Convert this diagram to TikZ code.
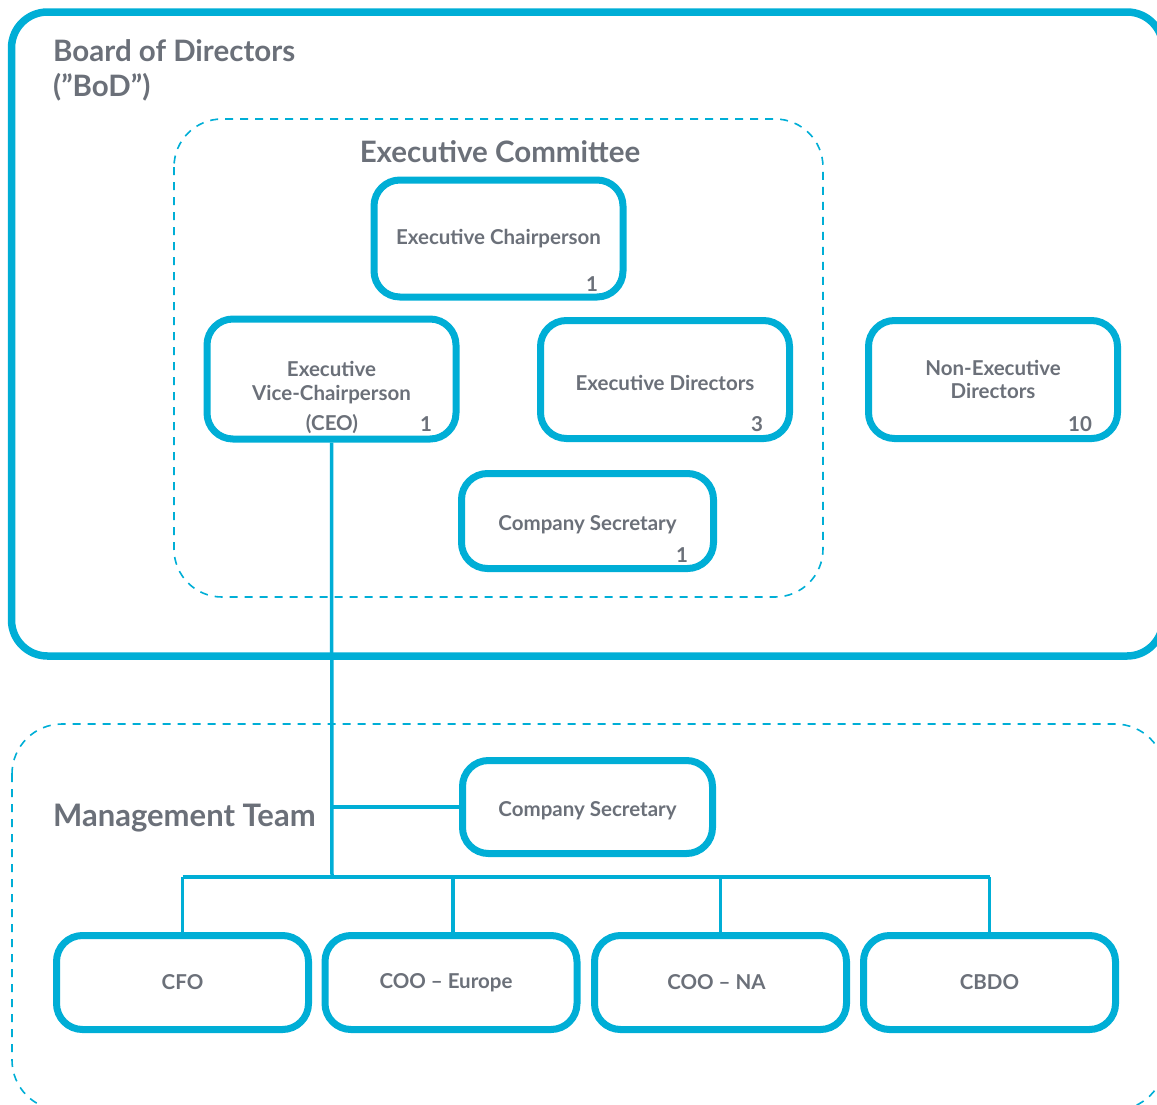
\documentclass[tikz,border=0pt]{standalone}
\usepackage{fontspec}
\setmainfont{Lato}
\definecolor{cy}{HTML}{00AED6}
\definecolor{tg}{HTML}{6B7079}
\tikzset{
  box/.style={draw=cy, line width=7pt, rounded corners=26pt, fill=white, text=tg,
    font=\fontsize{20.5}{24}\selectfont\bfseries, align=center, inner sep=0pt},
  num/.style={text=tg, font=\fontsize{20.5}{24}\selectfont\bfseries, inner sep=0pt},
  btext/.style={text=tg, font=\fontsize{20.5}{24}\selectfont\bfseries, align=center, inner sep=0pt},
  title/.style={text=tg, font=\fontsize{29.5}{35}\selectfont\bfseries, inner sep=0pt, align=left},
  conn/.style={draw=cy, line width=3.5pt},
  dashbox/.style={draw=cy, line width=1.6pt, dash pattern=on 8pt off 7pt},
}
\begin{document}
\begin{tikzpicture}[x=1pt,y=-1pt]
\useasboundingbox (0,0) rectangle (1157,1104);
% containers
\draw[draw=cy, line width=7.5pt, rounded corners=36pt] (11.5,12) rectangle (1163,656);
\draw[dashbox, rounded corners=48pt] (174,119) rectangle (823,597);
\draw[dashbox, rounded corners=50pt] (12,724) rectangle (1165,1110);
% titles
\node[title, anchor=north west] (bodt) at (53,39) {Board of Directors\\(”BoD”)};
\node[title] (ect) at (500,152) {Executive Committee};
\node[title, anchor=west, font=\fontsize{31}{35}\selectfont\bfseries] (mtt) at (53,818) {Management Team};
% boxes
\node[box, minimum width=249pt, minimum height=117pt] (ec) at (498.5,238.5) {Executive Chairperson};
\node[box, minimum width=249pt, minimum height=120pt] (evc) at (331.5,379) {};
\node[btext] (evct) at (331.5,383) {Executive\\Vice-Chairperson};
\node[num] (evcc) at (332,424) {(CEO)};
\node[box, minimum width=249pt, minimum height=118pt] (ed) at (665,379.5) {};
\node[btext] (edt) at (665,383) {Executive Directors};
\node[box, minimum width=249pt, minimum height=118pt, font=\fontsize{20.5}{23}\selectfont\bfseries] (ned) at (993,379.5) {Non-Executive\\Directors};
\node[box, minimum width=252pt, minimum height=95pt] (cs) at (587.5,521) {};
\node[btext] (cst) at (587.5,524.5) {Company Secretary};
\node[box, minimum width=250pt, minimum height=93pt] (csm) at (587.5,807) {};
\node[btext] (csmt) at (587.5,810.5) {Company Secretary};
\node[box, minimum width=252pt, minimum height=94pt] (cfo) at (182.5,982.5) {CFO};
\node[box, minimum width=252pt, minimum height=94pt] (cooe) at (451,982.5) {COO – Europe\hspace*{10pt}};
\node[box, minimum width=252pt, minimum height=94pt] (coona) at (720.5,982.5) {COO – NA\hspace*{8pt}};
\node[box, minimum width=252pt, minimum height=94pt] (cbdo) at (989.5,982.5) {CBDO};
% counts
\node[num] (n1) at (592,284) {1};
\node[num] (n2) at (426,424) {1};
\node[num] (n3) at (757,424) {3};
\node[num] (n4) at (1080,424) {10};
\node[num] (n5) at (682,555) {1};
% connectors
\coordinate (bus) at (332,877);
\draw[conn] (evc.south) -- (bus);
\draw[conn] (evc.south |- csm.west) -- (csm.west);
\draw[conn] (cfo.north |- bus) -- (cbdo.north |- bus);
\draw[conn] (cfo.north |- bus) -- (cfo.north);
\draw[conn] (453,877) -- (453,935.5) coordinate (cooetop);
\draw[conn] (coona.north |- bus) -- (coona.north);
\draw[conn] (cbdo.north |- bus) -- (cbdo.north);
\end{tikzpicture}
\end{document}
